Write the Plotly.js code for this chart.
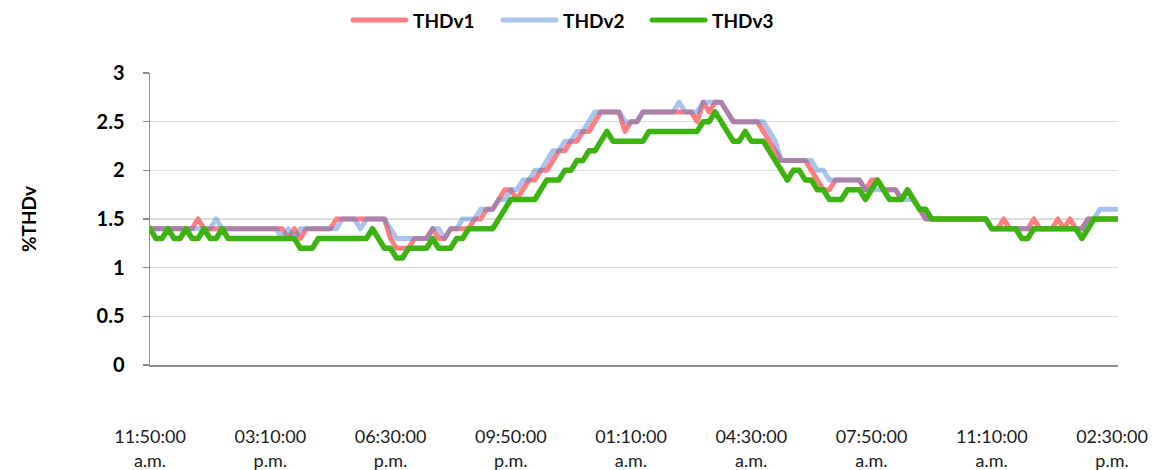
<!DOCTYPE html>
<html>
<head>
<meta charset="utf-8">
<script src="https://cdn.plot.ly/plotly-3.0.1.min.js"></script>
<style>
  html, body { margin: 0; padding: 0; background: #fff; }
  #chart { width: 1156px; height: 470px; }
  .scatterlayer path.js-line { stroke-linejoin: round; stroke-linecap: round; }
  .layer-above path { stroke-linecap: round; }
</style>
</head>
<body>
<div id="chart"></div>
<script>
// Series names
const seriesNames = ['THDv1', 'THDv2', 'THDv3'];

// Tick labels (every 20th sample, 10-minute samples)
const tickLabels = [
  '11:50:00<br>a.m.', '03:10:00<br>p.m.', '06:30:00<br>p.m.', '09:50:00<br>p.m.',
  '01:10:00<br>a.m.', '04:30:00<br>a.m.', '07:50:00<br>a.m.', '11:10:00<br>a.m.', '02:30:00<br>p.m.'
];
const tickEvery = 20;

// %THDv values, one per 10-minute sample
const thdv1 = [
  1.4,1.4,1.4,1.4,1.4,1.4,1.4,1.4,1.5,1.4,
  1.4,1.4,1.4,1.4,1.4,1.4,1.4,1.4,1.4,1.4,
  1.4,1.4,1.4,1.3,1.4,1.3,1.4,1.4,1.4,1.4,
  1.4,1.5,1.5,1.5,1.5,1.5,1.5,1.5,1.5,1.5,
  1.3,1.2,1.2,1.2,1.3,1.3,1.3,1.4,1.3,1.3,
  1.4,1.4,1.4,1.4,1.5,1.5,1.6,1.6,1.7,1.8,
  1.8,1.7,1.8,1.9,1.9,2.0,2.0,2.1,2.2,2.2,
  2.3,2.3,2.4,2.4,2.5,2.6,2.6,2.6,2.6,2.4,
  2.5,2.5,2.6,2.6,2.6,2.6,2.6,2.6,2.6,2.6,
  2.6,2.5,2.7,2.6,2.7,2.7,2.6,2.5,2.5,2.5,
  2.5,2.5,2.4,2.3,2.2,2.1,2.1,2.1,2.1,2.1,
  2.0,1.9,1.8,1.8,1.9,1.9,1.9,1.9,1.9,1.8,
  1.9,1.9,1.8,1.8,1.8,1.7,1.8,1.7,1.6,1.5,
  1.5,1.5,1.5,1.5,1.5,1.5,1.5,1.5,1.5,1.5,
  1.4,1.4,1.5,1.4,1.4,1.4,1.4,1.5,1.4,1.4,
  1.4,1.5,1.4,1.5,1.4,1.4,1.5,1.5,1.5,1.5,
  1.5,1.5
];
const thdv2 = [
  1.4,1.4,1.4,1.4,1.4,1.4,1.4,1.4,1.4,1.4,
  1.4,1.5,1.4,1.4,1.4,1.4,1.4,1.4,1.4,1.4,
  1.4,1.4,1.3,1.4,1.3,1.4,1.4,1.4,1.4,1.4,
  1.4,1.4,1.5,1.5,1.5,1.4,1.5,1.5,1.5,1.5,
  1.4,1.3,1.3,1.3,1.3,1.3,1.3,1.4,1.4,1.3,
  1.4,1.4,1.5,1.5,1.5,1.6,1.6,1.6,1.7,1.7,
  1.8,1.8,1.9,1.9,2.0,2.0,2.1,2.2,2.2,2.3,
  2.3,2.4,2.4,2.5,2.6,2.6,2.6,2.6,2.6,2.5,
  2.5,2.5,2.6,2.6,2.6,2.6,2.6,2.6,2.7,2.6,
  2.6,2.6,2.7,2.7,2.7,2.7,2.6,2.5,2.5,2.5,
  2.5,2.5,2.5,2.4,2.3,2.1,2.1,2.1,2.1,2.1,
  2.1,2.0,2.0,1.9,1.9,1.9,1.9,1.9,1.9,1.8,
  1.8,1.8,1.8,1.8,1.8,1.7,1.7,1.7,1.6,1.5,
  1.5,1.5,1.5,1.5,1.5,1.5,1.5,1.5,1.5,1.5,
  1.4,1.4,1.4,1.4,1.4,1.4,1.4,1.4,1.4,1.4,
  1.4,1.4,1.4,1.4,1.4,1.4,1.5,1.5,1.6,1.6,
  1.6,1.6
];
const thdv3 = [
  1.4,1.3,1.3,1.4,1.3,1.3,1.4,1.3,1.3,1.4,
  1.3,1.3,1.4,1.3,1.3,1.3,1.3,1.3,1.3,1.3,
  1.3,1.3,1.3,1.3,1.3,1.2,1.2,1.2,1.3,1.3,
  1.3,1.3,1.3,1.3,1.3,1.3,1.3,1.4,1.3,1.2,
  1.2,1.1,1.1,1.2,1.2,1.2,1.2,1.3,1.2,1.2,
  1.2,1.3,1.3,1.4,1.4,1.4,1.4,1.4,1.5,1.6,
  1.7,1.7,1.7,1.7,1.7,1.8,1.9,1.9,1.9,2.0,
  2.0,2.1,2.1,2.2,2.2,2.3,2.4,2.3,2.3,2.3,
  2.3,2.3,2.3,2.4,2.4,2.4,2.4,2.4,2.4,2.4,
  2.4,2.4,2.5,2.5,2.6,2.5,2.4,2.3,2.3,2.4,
  2.3,2.3,2.3,2.2,2.1,2.0,1.9,2.0,2.0,1.9,
  1.9,1.8,1.8,1.7,1.7,1.7,1.8,1.8,1.8,1.7,
  1.8,1.9,1.8,1.7,1.7,1.7,1.8,1.7,1.6,1.6,
  1.5,1.5,1.5,1.5,1.5,1.5,1.5,1.5,1.5,1.5,
  1.4,1.4,1.4,1.4,1.4,1.3,1.3,1.4,1.4,1.4,
  1.4,1.4,1.4,1.4,1.4,1.3,1.4,1.5,1.5,1.5,
  1.5,1.5
];

const seriesValues = [thdv1, thdv2, thdv3];
const seriesColors = ['#ff7f80', 'rgba(78,132,213,0.48)', '#3cb30f'];
const seriesWidths = [5, 5, 5.5];

const xIdx = thdv1.map((_, i) => i);
const tickVals = tickLabels.map((_, k) => k * tickEvery);

const traces = seriesValues.map((vals, s) => ({
  type: 'scatter',
  mode: 'lines',
  name: seriesNames[s],
  x: xIdx,
  y: vals,
  line: { color: seriesColors[s], width: seriesWidths[s], shape: 'linear' },
  hoverinfo: 'skip',
  showlegend: false
}));

// Legend drawn as shapes + text above the plot (page-pixel layout converted to paper units)
const M = { l: 150, r: 38, t: 73, b: 105 };
const W = 1156, H = 470;
const plotW = W - M.l - M.r, plotH = H - M.t - M.b;
const px2x = p => (p - M.l) / plotW;
const py2y = p => (H - M.b - p) / plotH;
const legendStarts = [353, 503, 652];
const legendY = 20;
const legendShapes = legendStarts.map((x0, s) => ({
  type: 'line', xref: 'paper', yref: 'paper',
  x0: px2x(x0), x1: px2x(x0 + 53), y0: py2y(legendY), y1: py2y(legendY),
  line: { color: seriesColors[s], width: 5 }
}));
const legendTexts = legendStarts.map((x0, s) => ({
  xref: 'paper', yref: 'paper',
  x: px2x(x0 + 58), y: py2y(legendY),
  xanchor: 'left', yanchor: 'middle',
  text: seriesNames[s], showarrow: false,
  font: { family: 'Lato, sans-serif', size: 19, color: '#000', weight: 'bold' }
}));

const layout = {
  width: W,
  height: H,
  paper_bgcolor: '#ffffff',
  plot_bgcolor: '#ffffff',
  margin: { l: M.l, r: M.r, t: M.t, b: M.b, autoexpand: false },
  font: { family: 'Lato, "Open Sans", sans-serif', color: '#000' },
  showlegend: false,
  shapes: legendShapes,
  annotations: legendTexts,
  xaxis: {
    type: 'linear',
    range: [0, xIdx.length - 1],
    tickmode: 'array',
    tickvals: tickVals,
    ticktext: tickLabels,
    showgrid: false,
    zeroline: false,
    showline: true,
    linecolor: '#8c8c8c',
    linewidth: 1.5,
    ticks: '',
    ticklabelstandoff: 55,
    automargin: false,
    tickfont: { family: 'Lato, sans-serif', size: 18, color: '#1a1a1a' }
  },
  yaxis: {
    range: [0, 3],
    tickmode: 'linear',
    tick0: 0,
    dtick: 0.5,
    showgrid: true,
    gridcolor: '#dcdcdc',
    gridwidth: 1.5,
    zeroline: false,
    showline: true,
    linecolor: '#8c8c8c',
    linewidth: 1.5,
    ticks: 'outside',
    ticklen: 6,
    tickcolor: '#8c8c8c',
    tickwidth: 1.5,
    ticklabelstandoff: 14,
    automargin: false,
    tickfont: { family: 'Lato, sans-serif', size: 20, color: '#000', weight: 'bold' },
    title: {
      text: '%THDv',
      standoff: 55,
      font: { family: 'Lato, sans-serif', size: 19, color: '#000', weight: 'bold' }
    }
  }
};

Plotly.newPlot('chart', traces, layout, { staticPlot: true, displayModeBar: false });
</script>
</body>
</html>
